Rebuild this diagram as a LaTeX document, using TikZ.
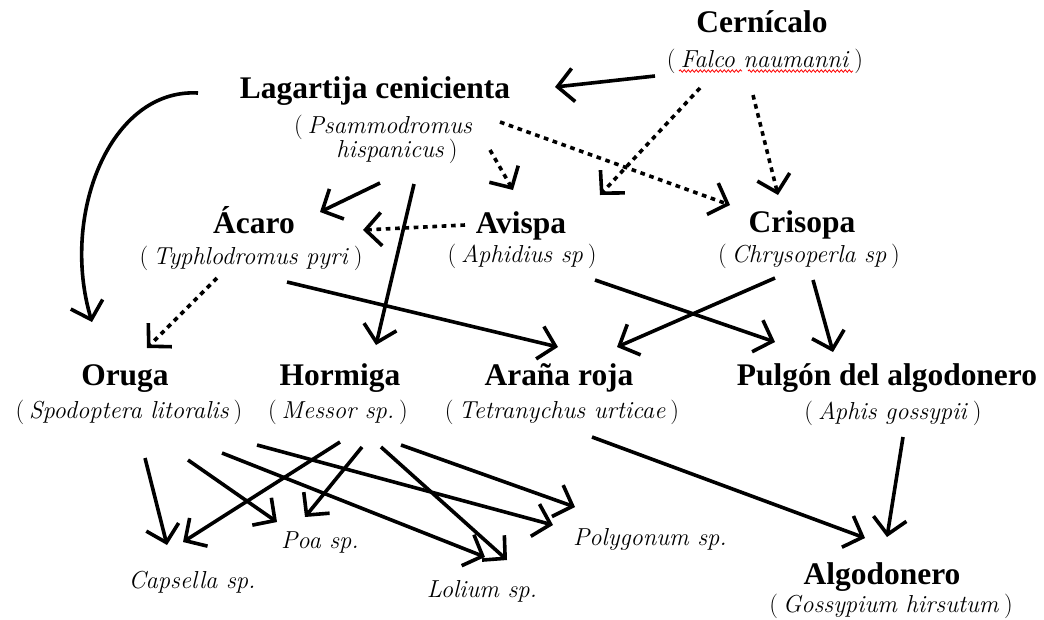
\documentclass[tikz,border=0pt]{standalone}
\usepackage{fontspec}
\newfontfamily\tnr{Liberation Serif}
\usetikzlibrary{arrows.meta,decorations.pathmorphing}
\newcommand\pn[1]{\textup{(}\hspace{0.2em}#1\hspace{0.2em}\textup{)}}
\tikzset{
  title/.style={font=\tnr\bfseries\fontsize{23.6}{28}\selectfont, anchor=base, inner sep=0pt},
  sci/.style={font=\fontsize{18.4}{22}\selectfont\itshape, anchor=base, inner sep=0pt},
  arr/.style={line width=2.7pt, -{Straight Barb[length=12pt,width=25pt]}},
  darr/.style={arr, dash pattern=on 3.5pt off 3.5pt},
  squig/.style={red, line width=0.6pt, decorate, decoration={snake, amplitude=0.9pt, segment length=3pt}}
}
\begin{document}
\begin{tikzpicture}[x=0.75pt,y=-0.75pt]
\useasboundingbox (0,0) rectangle (1044,619);
% nodes
\node[title] (cern) at (762,32) {Cernícalo};
\node[sci] (cernS) at (765,67) {\pn{Falco naumanni}};
\node[title] (lag) at (375,98) {Lagartija cenicienta};
\node[sci] (lagSa) at (383,133) {\textup{(}\hspace{0.2em}Psammodromus};
\node[sci] (lagSb) at (397,157) {hispanicus\hspace{0.2em}\textup{)}};
\node[title] (acaro) at (254,233) {Ácaro};
\node[sci] (acaroS) at (251,264) {\pn{Typhlodromus pyri}};
\node[title] (avispa) at (521,233) {Avispa};
\node[sci] (avispaS) at (522,262) {\pn{Aphidius sp}};
\node[title] (crisopa) at (802,232) {Crisopa};
\node[sci] (crisopaS) at (809,262) {\pn{Chrysoperla sp}};
\node[title] (oruga) at (125,385) {Oruga};
\node[sci] (orugaS) at (129,418) {\pn{Spodoptera litoralis}};
\node[title] (hormiga) at (340,385) {Hormiga};
\node[sci] (hormigaS) at (338,418) {\pn{Messor sp.}};
\node[title] (arana) at (559,385) {Araña roja};
\node[sci] (aranaS) at (562,418) {\pn{Tetranychus urticae}};
\node[title] (pulgon) at (887,385) {Pulgón del algodonero};
\node[sci] (pulgonS) at (893,419) {\pn{Aphis gossypii}};
\node[sci] (poa) at (320,548) {Poa sp.};
\node[sci] (capsella) at (192,588) {Capsella sp.};
\node[sci] (lolium) at (482,597) {Lolium sp.};
\node[sci] (polygonum) at (650,545) {Polygonum sp.};
\node[title] (algod) at (882,584) {Algodonero};
\node[sci] (algodS) at (891,612) {\pn{Gossypium hirsutum}};
% spell-check squiggles
\draw[squig] ([shift={(-86,4)}]cernS.base) -- ([shift={(-23,4)}]cernS.base);
\draw[squig] ([shift={(-17,4)}]cernS.base) -- ([shift={(88,4)}]cernS.base);
% connectors
\draw[arr] ([shift={(-110,9)}]cernS.base) -- ([shift={(180,-11)}]lag.base);
\draw[darr] ([shift={(-65,21)}]cernS.base) -- ([shift={(79,-38)}]avispa.base);
\draw[darr] ([shift={(-12,28)}]cernS.base) -- ([shift={(-24,-37)}]crisopa.base);
\draw[darr] ([shift={(117,-11)}]lagSa.base) -- ([shift={(-72,-27)}]crisopa.base);
\draw[darr] ([shift={(93,-7)}]lagSb.base) -- ([shift={(-8,-43)}]avispa.base);
\draw[arr] ([shift={(-177,-5)}]lag.base) .. controls (110,88) and (60,215) .. ([shift={(-33,-63)}]oruga.base);
\draw[arr] ([shift={(-17,26)}]lagSb.base) -- ([shift={(66,-21)}]acaro.base);
\draw[arr] ([shift={(17,27)}]lagSb.base) -- ([shift={(36,-40)}]hormiga.base);
\draw[darr] ([shift={(-56,-8)}]avispa.base) -- ([shift={(109,-3)}]acaro.base);
\draw[darr] ([shift={(-34,14)}]acaroS.base) -- ([shift={(22,-37)}]oruga.base);
\draw[arr] ([shift={(36,18)}]acaroS.base) -- ([shift={(-1,-38)}]arana.base);
\draw[arr] ([shift={(73,18)}]avispaS.base) -- ([shift={(-112,-43)}]pulgon.base);
\draw[arr] ([shift={(-34,16)}]crisopaS.base) -- ([shift={(58,-38)}]arana.base);
\draw[arr] ([shift={(4,18)}]crisopaS.base) -- ([shift={(-54,-33)}]pulgon.base);
\draw[arr] ([shift={(16,40)}]orugaS.base) -- ([shift={(-25,-43)}]capsella.base);
\draw[arr] ([shift={(59,42)}]orugaS.base) -- ([shift={(-43,-26)}]poa.base);
\draw[arr] ([shift={(93,35)}]orugaS.base) -- ([shift={(3,-40)}]lolium.base);
\draw[arr] ([shift={(128,27)}]orugaS.base) -- ([shift={(-97,-20)}]polygonum.base);
\draw[arr] ([shift={(2,24)}]hormigaS.base) -- ([shift={(-9,-46)}]capsella.base);
\draw[arr] ([shift={(24,29)}]hormigaS.base) -- ([shift={(-15,-31)}]poa.base);
\draw[arr] ([shift={(43,29)}]hormigaS.base) -- ([shift={(25,-37)}]lolium.base);
\draw[arr] ([shift={(63,27)}]hormigaS.base) -- ([shift={(-75,-38)}]polygonum.base);
\draw[arr] ([shift={(30,19)}]aranaS.base) -- ([shift={(-17,-46)}]algod.base);
\draw[arr] ([shift={(10,18)}]pulgonS.base) -- ([shift={(5,-47)}]algod.base);
\end{tikzpicture}
\end{document}
